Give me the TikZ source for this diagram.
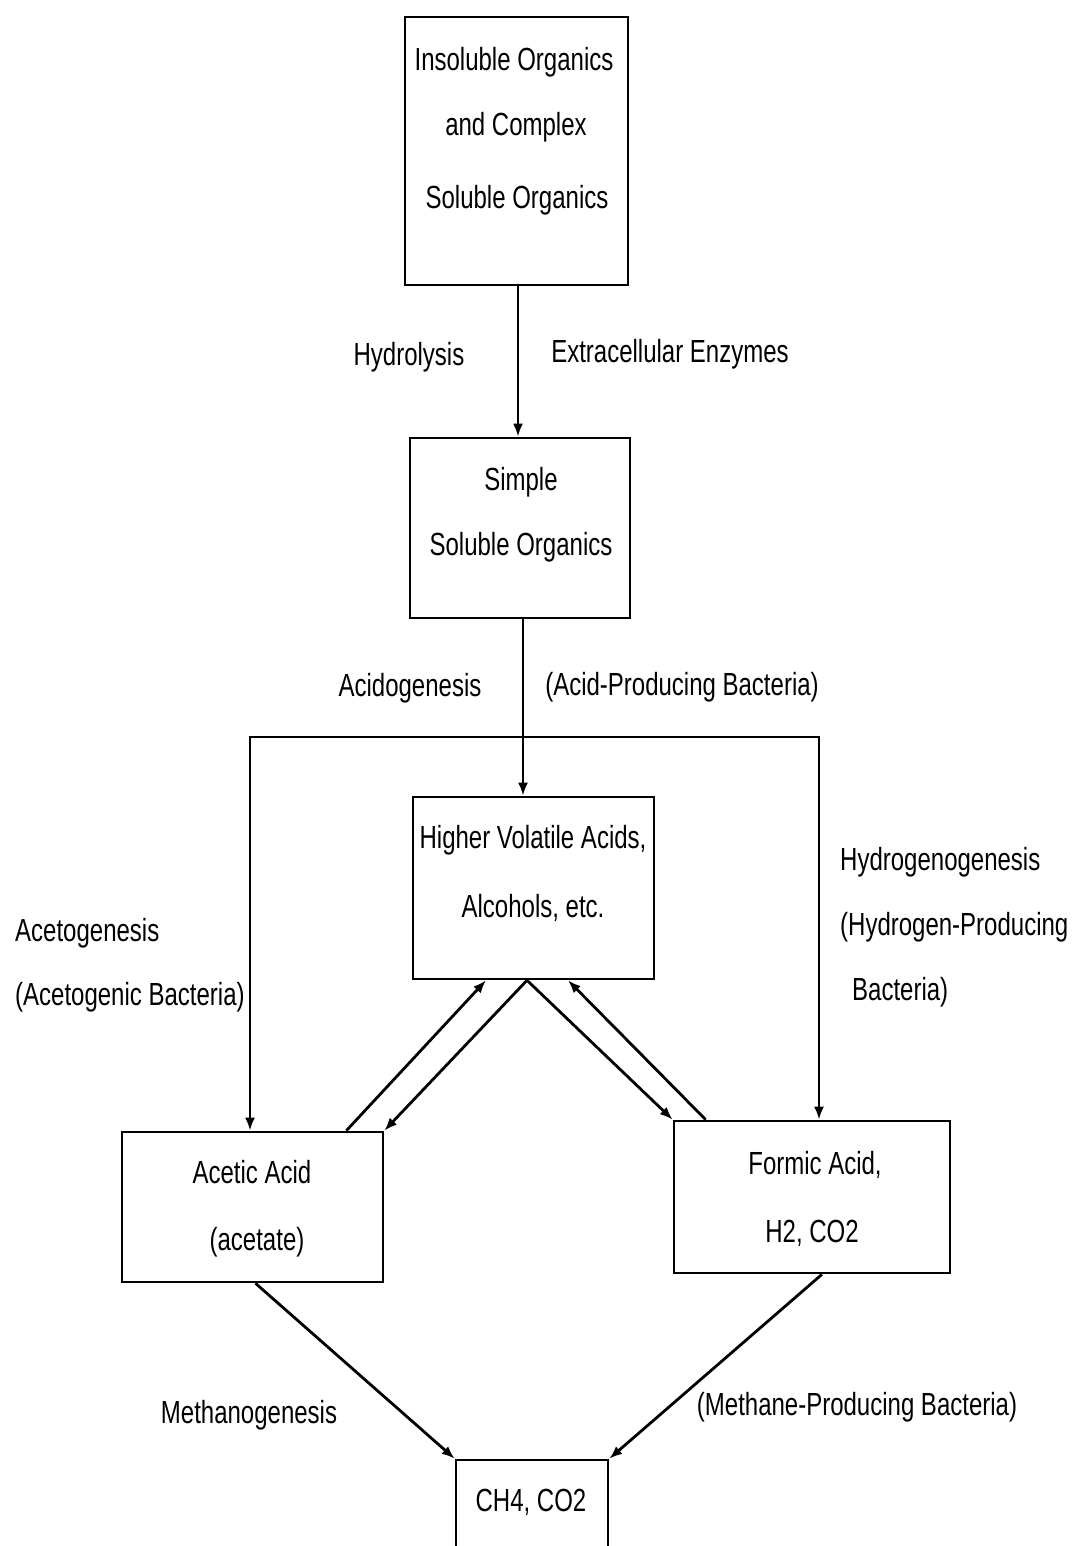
\documentclass[tikz,border=0pt]{standalone}
\usepackage{fontspec}
\setmainfont{Liberation Sans}[FakeStretch=0.75]
\usetikzlibrary{arrows.meta,calc}
\tikzset{
  box/.style={draw=black, line width=2.6pt, fill=none, inner sep=0pt},
  lbl/.style={inner sep=0pt, font=\fontsize{32}{38}\selectfont},
  arr/.style={line width=2.8pt, -{Latex[length=13pt,width=10pt]}},
  ln/.style={line width=2.8pt}
}
\begin{document}
\begin{tikzpicture}[x=1pt,y=-1pt]
\useasboundingbox (0,0) rectangle (1073,1546);
\fill[white] (0,0) rectangle (1073,1546);
\clip (0,0) rectangle (1073,1546);
% boxes
\node[box, minimum width=223, minimum height=268] (b1) at (516.5,151) {};
\node[box, minimum width=220, minimum height=180] (b2) at (520,528) {};
\node[box, minimum width=241, minimum height=182] (b3) at (533.5,888) {};
\node[box, minimum width=261, minimum height=150] (b4) at (252.5,1207) {};
\node[box, minimum width=276, minimum height=152] (b5) at (812,1197) {};
\node[box, minimum width=152, minimum height=120] (b6) at (532,1520) {};
% box texts
\node[lbl] (t1a) at (514,62) {Insoluble Organics};
\node[lbl] (t1b) at (516,127) {and Complex};
\node[lbl] (t1c) at (517,200) {Soluble Organics};
\node[lbl] (t2a) at (521,482) {Simple};
\node[lbl] (t2b) at (521,547) {Soluble Organics};
\node[lbl] (t3a) at (533,840) {Higher Volatile Acids,};
\node[lbl] (t3b) at (533,908) {Alcohols, etc.};
\node[lbl] (t4a) at (252,1172) {Acetic Acid};
\node[lbl] (t4b) at (257,1242) {(acetate)};
\node[lbl] (t5a) at (815,1165) {Formic Acid,};
\node[lbl] (t5b) at (812,1233) {H2, CO2};
\node[lbl] (t6) at (531,1502) {CH4, CO2};
% process labels
\node[lbl] (l1) at (409,357) {Hydrolysis};
\node[lbl] (l2) at (670,354) {Extracellular Enzymes};
\node[lbl] (l3) at (410,688) {Acidogenesis};
\node[lbl] (l4) at (682,687) {(Acid-Producing Bacteria)};
\node[lbl, anchor=west] (l5) at (15,933) {Acetogenesis};
\node[lbl, anchor=west] (l6) at (15,997) {(Acetogenic Bacteria)};
\node[lbl, anchor=west] (l7) at (840,862) {Hydrogenogenesis};
\node[lbl, anchor=west] (l8) at (840,927) {(Hydrogen-Producing};
\node[lbl, anchor=west] (l9) at (852,992) {Bacteria)};
\node[lbl] (l10) at (249,1415) {Methanogenesis};
\node[lbl] (l11) at (857,1407) {(Methane-Producing Bacteria)};
% connectors
\draw[arr] ([xshift=1.5pt]b1.south) -- ([xshift=1.5pt]b1.south |- b2.north);
\draw[arr] ([xshift=3pt]b2.south) -- ([xshift=3pt]b2.south |- b3.north);
\coordinate (j) at (523,737);
\coordinate (j4) at ([xshift=-2.5pt]b4.north);
\coordinate (j5) at ([xshift=7pt]b5.north);
\draw[arr] (j) -| (j4);
\draw[arr] (j) -| (j5);
% diagonals between b3 and b4/b5
\draw[arr] ([xshift=-38pt]b4.north east) -- ([xshift=-47.5pt]b3.south);
\draw[arr] ([xshift=-6.5pt]b3.south) -- (b4.north east);
\draw[arr] ([xshift=-6.5pt]b3.south) -- (b5.north west);
\draw[arr] ([xshift=33pt]b5.north west) -- ([xshift=34.5pt]b3.south);
% methanogenesis
\draw[arr] ([xshift=3pt]b4.south) -- (b6.north west);
\draw[arr] ([xshift=10pt]b5.south) -- (b6.north east);
\end{tikzpicture}
\end{document}
